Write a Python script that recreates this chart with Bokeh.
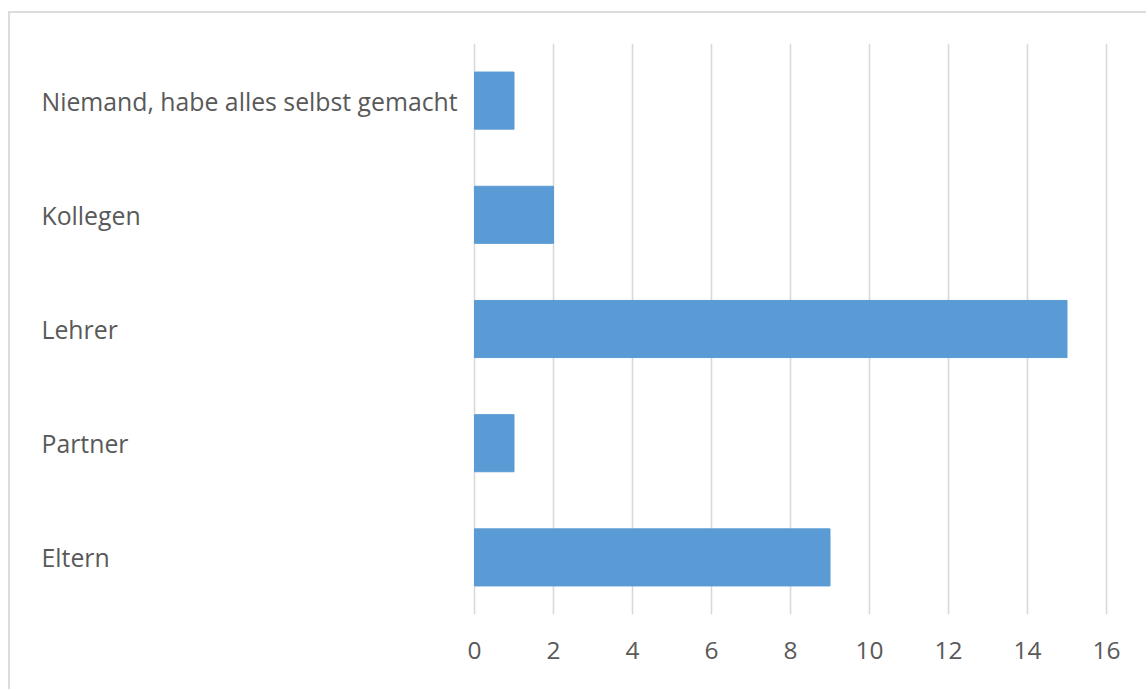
from bokeh.plotting import figure
from bokeh.models import FactorRange, Range1d, FixedTicker, ColumnDataSource
from bokeh.core.properties import value
from bokeh.embed import file_html
from bokeh.resources import INLINE

# ---- data ----
categories = ["Eltern", "Partner", "Lehrer", "Kollegen", "Niemand, habe alles selbst gemacht"]
counts = [9, 1, 15, 2, 1]
x_ticks = [0, 2, 4, 6, 8, 10, 12, 14, 16]

# ---- layout constants (canvas pixels) ----
W, H = 1138, 678
TOP, BOTTOM = 30, 77
ZERO_PX = 464          # where value 0 sits inside the frame
PX_PER_UNIT = 39.5
LABEL_PX = 31          # left edge of category labels inside frame

x_start = -ZERO_PX / PX_PER_UNIT
x_end = (W - ZERO_PX) / PX_PER_UNIT

TEXT = "#595959"
GRID = "#d9d9d9"
BAR = "#5B9BD5"
FONT = "Open Sans"

p = figure(
    width=W, height=H,
    x_range=Range1d(x_start, x_end),
    y_range=FactorRange(factors=categories),
    output_backend="svg", toolbar_location=None,
    y_axis_location=None,
    min_border_left=0, min_border_right=0, min_border_top=TOP, min_border_bottom=BOTTOM,
    margin=(11, 0, 0, 8),
    styles={"border-top": "2px solid #dcdcdc", "border-left": "2px solid #dcdcdc"},
)
p.outline_line_color = None
p.background_fill_color = "white"
p.border_fill_color = "white"

src = ColumnDataSource(dict(cat=categories, val=counts,
                            lx=[x_start + LABEL_PX / PX_PER_UNIT] * len(categories)))

p.hbar(y="cat", left=0, right="val", height=0.5, source=src,
       fill_color=BAR, line_color=BAR)

p.text(x="lx", y="cat", text="cat", source=src,
       text_font=value(FONT), text_font_size="24.8px", text_color=TEXT,
       text_align="left", text_baseline="middle")

ticker = FixedTicker(ticks=x_ticks)
p.xgrid.ticker = ticker
p.xgrid.grid_line_color = GRID
p.xgrid.grid_line_width = 1.6
p.ygrid.grid_line_color = None

ax = p.xaxis[0]
ax.ticker = ticker
ax.axis_line_color = None
ax.major_tick_line_color = None
ax.minor_tick_line_color = None
ax.major_tick_in = 0
ax.major_tick_out = 0
ax.major_label_standoff = 27
ax.major_label_text_font = FONT
ax.major_label_text_font_size = "24.5px"
ax.major_label_text_color = TEXT

open("out.html", "w").write(file_html(p, INLINE))
